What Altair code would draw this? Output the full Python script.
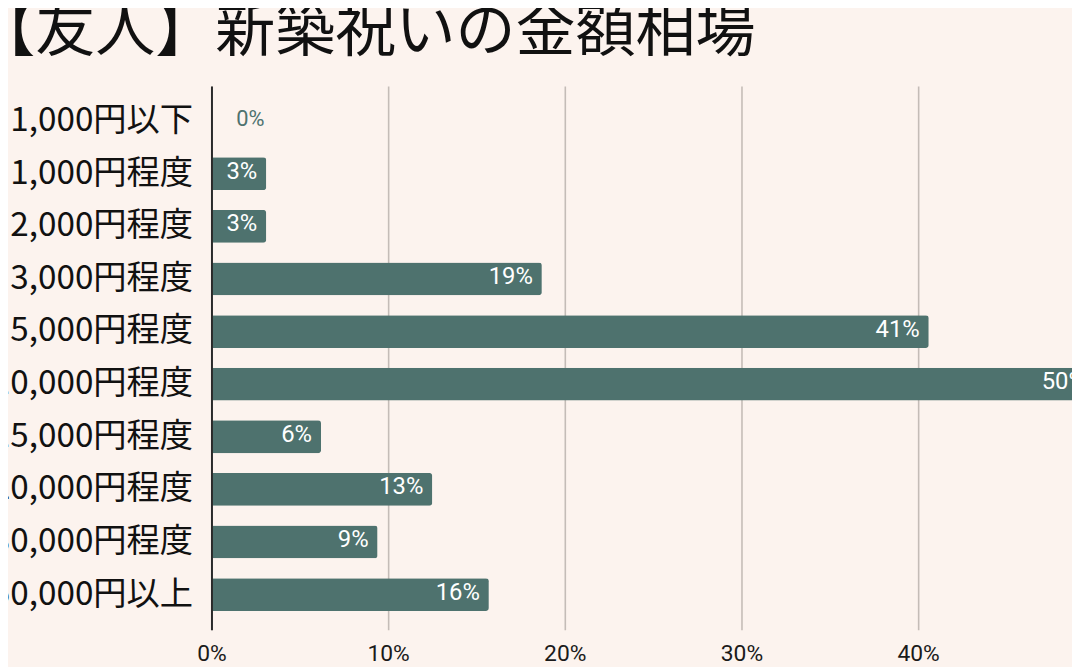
import altair as alt
import pandas as pd

categories = ["1,000円以下", "1,000円程度", "2,000円程度", "3,000円程度", "5,000円程度",
              "10,000円程度", "15,000円程度", "20,000円程度", "30,000円程度", "50,000円以上"]
values = [0, 3.1, 3.1, 18.7, 40.6, 50.0, 6.2, 12.5, 9.4, 15.7]
x_ticks = [0, 10, 20, 30, 40]
title_text = "【友人】新築祝いの金額相場"

df = pd.DataFrame({"category": categories, "value": values})

BAR = "#4e726e"
BG = "#fcf3ee"

x_enc = alt.X(
    "value:Q",
    scale=alt.Scale(domain=[0, 48.71], nice=False, zero=True),
    axis=alt.Axis(values=x_ticks, labelExpr="datum.value + '%'", title=None,
                  domain=False, ticks=False, grid=True, gridColor="#c4bcb7",
                  gridWidth=1.6, labelFont="Roboto", labelFontSize=23,
                  labelColor="#1a1a1a", labelPadding=13, labelFlush=False),
)
y_enc = alt.Y(
    "category:N", sort=categories,
    scale=alt.Scale(paddingInner=0.377, paddingOuter=0.358),
    axis=alt.Axis(title=None, ticks=False, domain=True, domainColor="#2a2a2a",
                  domainWidth=2, labelFont="Noto Sans CJK JP", labelFontSize=33.5,
                  labelColor="#111111", labelPadding=19, labelLimit=0, grid=False,
                  zindex=1),
)

base = alt.Chart(df)
bars = base.mark_bar(color=BAR, cornerRadiusEnd=3).encode(x=x_enc, y=y_enc)

text_in = base.transform_filter("datum.value >= 1").transform_calculate(
    label="round(datum.value) + '%'"
).mark_text(align="right", baseline="middle", dx=-9, dy=-2, color="white",
            font="Roboto", fontSize=24, fontWeight="normal").encode(
    x="value:Q", y=alt.Y("category:N", sort=categories), text="label:N")

text_out = base.transform_filter("datum.value < 1").transform_calculate(
    label="round(datum.value) + '%'"
).mark_text(align="left", baseline="middle", dx=25, dy=-2, color=BAR,
            font="Roboto", fontSize=22, fontWeight="normal").encode(
    x="value:Q", y=alt.Y("category:N", sort=categories), text="label:N")

chart = alt.layer(bars, text_in, text_out).properties(
    width=867, height=548,
    title=alt.TitleParams(text=title_text, font="Noto Sans CJK JP", fontSize=60.5,
                          fontWeight="normal", color="#111111", anchor="start",
                          frame="group", dx=-238, dy=42, offset=17,
                          baseline="alphabetic"),
    padding={"left": 205, "top": 76, "right": 0, "bottom": 35},
    autosize=alt.AutoSizeParams(type="none"),
    background=BG,
).configure_view(stroke=None)

chart.save("out.html", embed_options={"renderer": "svg", "actions": False})
